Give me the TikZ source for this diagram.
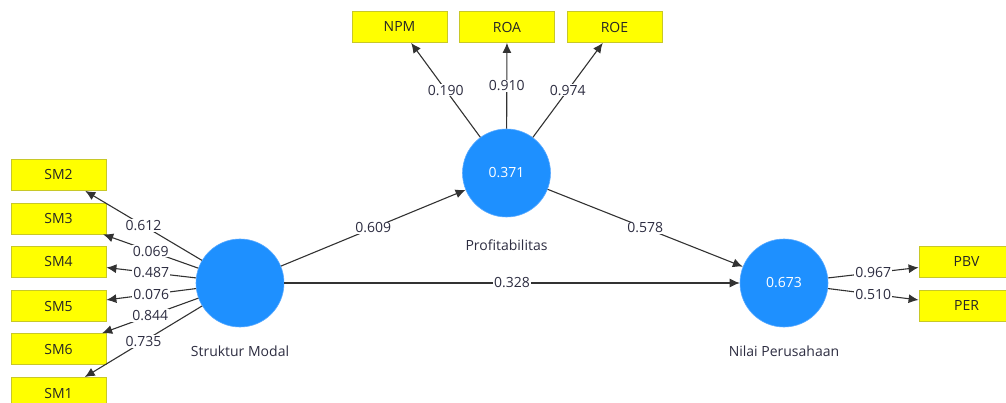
\documentclass[tikz,border=0pt]{standalone}
\usepackage{fontspec}
\setmainfont{Open Sans}
\usetikzlibrary{arrows.meta}
\definecolor{boxfill}{RGB}{255,255,0}
\definecolor{boxline}{RGB}{200,200,40}
\definecolor{latent}{RGB}{30,144,255}
\definecolor{latentline}{RGB}{90,170,255}
\definecolor{edgecol}{RGB}{50,50,50}
\definecolor{txt}{RGB}{45,45,65}
\tikzset{
  indbox/.style={draw=boxline, line width=0.8pt, fill=boxfill, minimum width=95pt, minimum height=31pt, inner sep=0pt, font=\fontsize{14}{16}\selectfont, text=black!85},
  latentnode/.style={circle, fill=latent, draw=latentline, line width=0.6pt, minimum size=88pt, inner sep=0pt, text=white, font=\fontsize{14}{16}\selectfont},
  lname/.style={text=txt, font=\fontsize{14}{16}\selectfont, inner sep=0pt},
  conn/.style={draw=edgecol, line width=1.1pt, -{Latex[length=10pt,width=9pt]}},
  wlabel/.style={fill=white, inner sep=1pt, text=txt, font=\fontsize{14}{16}\selectfont, midway},
}
\begin{document}
\begin{tikzpicture}[x=1pt,y=-1pt]
\useasboundingbox (0,0) rectangle (1006,403);
\clip (0,0) rectangle (1006,403);
% indicators
\node[indbox] (SM2) at (58.5,175) {SM2};
\node[indbox] (SM3) at (58.5,218.5) {SM3};
\node[indbox] (SM4) at (58.5,262) {SM4};
\node[indbox] (SM5) at (58.5,306) {SM5};
\node[indbox] (SM6) at (58.5,349) {SM6};
\node[indbox] (SM1) at (58.5,393) {SM1};
\node[indbox] (NPM) at (399.5,27) {NPM};
\node[indbox] (ROA) at (507,27) {ROA};
\node[indbox] (ROE) at (614.5,27) {ROE};
\node[indbox] (PBV) at (966.5,262) {PBV};
\node[indbox] (PER) at (966.5,306) {PER};
% latent variables
\node[latentnode] (SMod) at (240,283) {};
\node[latentnode] (Prof) at (506.5,173) {0.371};
\node[latentnode] (Nilai) at (784,283) {0.673};
\node[lname] (SModL) at (240,351) {Struktur Modal};
\node[lname] (ProfL) at (506.5,245) {Profitabilitas};
\node[lname] (NilaiL) at (784,351) {Nilai Perusahaan};
% loadings
\draw[conn] (SMod) -- node[wlabel] {0.612} (SM2);
\draw[conn] (SMod) -- node[wlabel] {0.069} (SM3);
\draw[conn] (SMod) -- node[wlabel] {0.487} (SM4);
\draw[conn] (SMod) -- node[wlabel] {0.076} (SM5);
\draw[conn] (SMod) -- node[wlabel] {0.844} (SM6);
\draw[conn] (SMod) -- node[wlabel] {0.735} (SM1);
\draw[conn] (Prof) -- node[wlabel] {0.190} (NPM);
\draw[conn] (Prof) -- node[wlabel] {0.910} (ROA);
\draw[conn] (Prof) -- node[wlabel] {0.974} (ROE);
\draw[conn] (Nilai) -- node[wlabel] {0.967} (PBV);
\draw[conn] (Nilai) -- node[wlabel] {0.510} (PER);
% paths
\draw[conn] (SMod) -- node[wlabel] {0.609} (Prof);
\draw[conn] (Prof) -- node[wlabel] {0.578} (Nilai);
\draw[conn] (SMod) -- node[wlabel] {0.328} (Nilai);
\end{tikzpicture}
\end{document}
